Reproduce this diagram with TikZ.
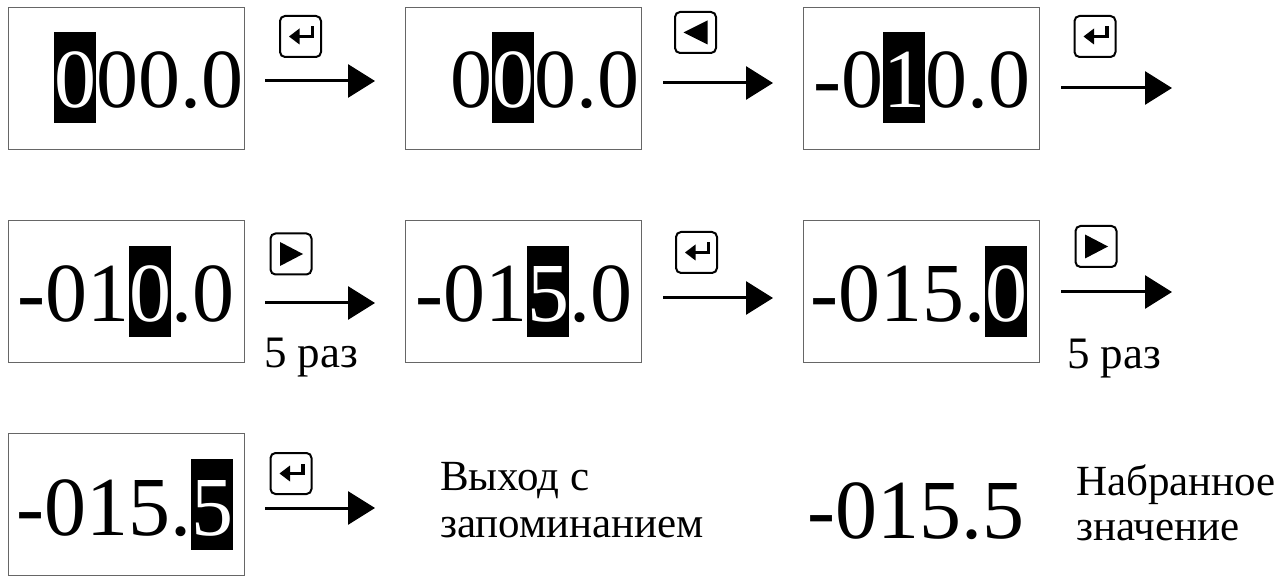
\documentclass[tikz,border=0pt]{standalone}
\usepackage{fontspec}
\setmainfont{Liberation Serif}
\usetikzlibrary{arrows.meta}
\newcommand\hlt[1]{\rlap{\rule[-15pt]{42pt}{91pt}}\textcolor{white}{#1}}
\begin{document}
\begin{tikzpicture}[x=1pt,y=-1pt,
 dispbox/.style={draw=black!60, line width=1.2pt, minimum width=236pt, minimum height=142pt, inner sep=0, anchor=north west},
 big/.style={anchor=base west, inner sep=0, font=\fontsize{84}{84}\selectfont},
 small/.style={anchor=base west, inner sep=0, font=\fontsize{43}{47}\selectfont},
 count/.style={anchor=base west, inner sep=0, font=\fontsize{45}{47}\selectfont},
 flow/.style={line width=3pt, -{Triangle[length=27pt,width=33pt]}},
 keybox/.style={draw, line width=2pt, rounded corners=5pt, minimum size=41pt, inner sep=0},
 glyph/.style={line width=3.5pt},
]
\useasboundingbox (0,0) rectangle (1275,577);
% display boxes
\node[dispbox] (b1) at (8,7) {};
\node[dispbox] (b2) at (405,7) {};
\node[dispbox] (b3) at (803,7) {};
\node[dispbox] (b4) at (8,220) {};
\node[dispbox] (b5) at (405,220) {};
\node[dispbox] (b6) at (803,220) {};
\node[dispbox] (b7) at (8,433) {};
% display texts
\node[big] (t1) at (54,108) {\hlt{0}00.0};
\node[big] (t2) at (450,108) {0\hlt{0}0.0};
\node[big] (t3) at (813,108) {-0\hlt{1}0.0};
\node[big] (t4) at (17,322) {-01\hlt{0}.0};
\node[big] (t5) at (415,322) {-01\hlt{5}.0};
\node[big] (t6) at (810,322) {-015.\hlt{0}};
\node[big] (t7) at (16,535) {-015.\hlt{5}};
% arrows
\coordinate (a1s) at (265,81);  \coordinate (a1e) at (375,81);
\coordinate (a2s) at (663,83);  \coordinate (a2e) at (773,83);
\coordinate (a3s) at (1061,88); \coordinate (a3e) at (1172,88);
\coordinate (a4s) at (265,303); \coordinate (a4e) at (375,303);
\coordinate (a5s) at (663,298); \coordinate (a5e) at (773,298);
\coordinate (a6s) at (1061,292);\coordinate (a6e) at (1172,292);
\coordinate (a7s) at (265,508); \coordinate (a7e) at (375,508);
\foreach \i in {1,...,7} \draw[flow] (a\i s) -- (a\i e);
% key icons
\node[keybox] (k1) at (300.5,36.5) {};
\node[keybox] (k2) at (695.5,32.5) {};
\node[keybox] (k3) at (1095,36.5) {};
\node[keybox] (k4) at (291,254) {};
\node[keybox] (k5) at (696.5,252.5) {};
\node[keybox] (k6) at (1096,246.5) {};
\node[keybox] (k7) at (291,473.5) {};
% enter glyphs
\foreach \k in {k1,k3,k5,k7}{
  \begin{scope}[shift={(\k.center)}]
    \fill (-11.5,0) -- (-1,-8) -- (-1,8) -- cycle;
    \draw[glyph] (-2,0) -- (12,0) -- (12,-10);
  \end{scope}
}
% left glyph
\begin{scope}[shift={(k2.center)}]
  \fill (-12,0) -- (12,-12) -- (12,12) -- cycle;
\end{scope}
% right glyphs
\foreach \k in {k4,k6}{
  \begin{scope}[shift={(\k.center)}]
    \fill (12,0) -- (-11,-12) -- (-11,12) -- cycle;
  \end{scope}
}
% labels
\node[count] (r1) at (264,368) {5 раз};
\node[count] (r2) at (1067,369) {5 раз};
\node[small] (e1) at (440,490) {Выход с};
\node[small] (e2) at (440,537) {запоминанием};
\node[big] (res) at (807,538) {-015.5};
\node[small] (n1) at (1076,495) {Набранное};
\node[small] (n2) at (1076,540) {значение};
\end{tikzpicture}
\end{document}
